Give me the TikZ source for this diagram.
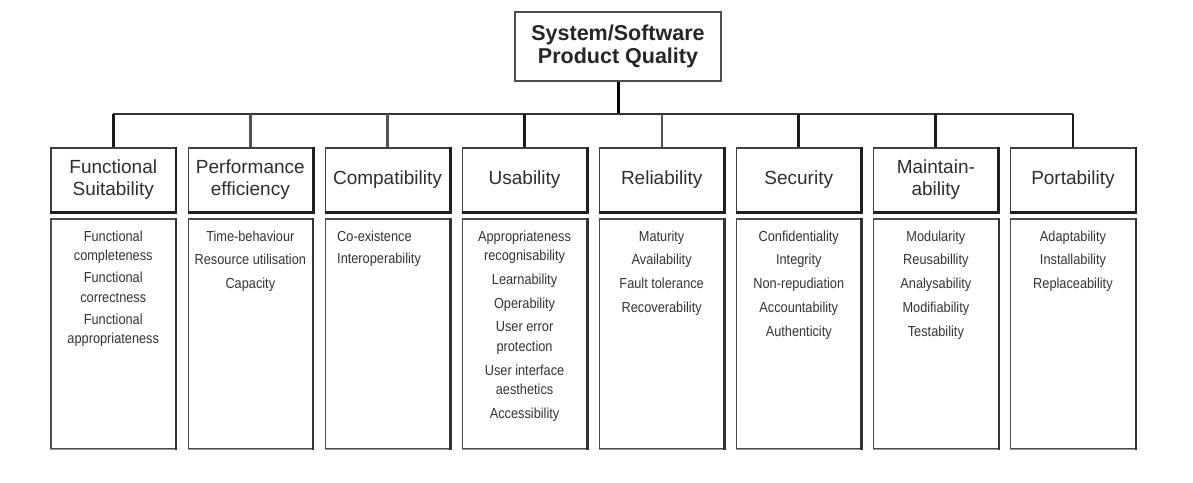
\documentclass[tikz,border=0pt]{standalone}
\usepackage{fontspec}
\setmainfont{Liberation Sans}
\newfontfamily\narrowfont[FakeStretch=0.88]{Liberation Sans}
\begin{document}
\begin{tikzpicture}[x=1pt,y=-1pt,
  titlebox/.style={draw=black!70, line width=1.2pt, minimum width=206pt, minimum height=69pt, inner sep=0pt,
    font=\bfseries\fontsize{21.5}{23.5}\selectfont, text=black!85, align=center},
  hbox/.style={draw=black!75, line width=1.2pt, minimum width=124.5pt, minimum height=64pt, inner sep=0pt,
    font=\fontsize{19}{22}\selectfont, text=black!82, align=center},
  cbox/.style={draw=black!70, line width=1.2pt, minimum width=124.5pt, minimum height=230pt, inner sep=0pt},
  ctext/.style={font=\narrowfont\fontsize{14.5}{19.5}\selectfont, text=black!80, align=center, inner sep=0pt, anchor=north},
  ltext/.style={font=\narrowfont\fontsize{14.5}{22.5}\selectfont, text=black!80, align=left, inner sep=0pt, anchor=north west},
  hedge/.style={draw=black!88, line width=2.6pt},
  cedge/.style={draw=black!80, line width=2.4pt},
  cbottom/.style={draw=black!40, line width=1.4pt},
  trunk/.style={draw=black, line width=3pt},
  bar/.style={draw=black!80, line width=2.2pt},
  brdark/.style={draw=black!90, line width=2.8pt},
  brgray/.style={draw=black!68, line width=2.3pt}
]
\useasboundingbox (0,0) rectangle (1193,482);

% title
\node[titlebox] (title) at (618,46.5) {System/Software\\Product Quality};

% headers
\node[hbox] (h1) at (113.25,180) {Functional\\Suitability};
\node[hbox] (h2) at (250.35,180) {Performance\\efficiency};
\node[hbox] (h3) at (387.45,180) {Compatibility};
\node[hbox] (h4) at (524.55,180) {Usability};
\node[hbox] (h5) at (661.65,180) {Reliability};
\node[hbox] (h6) at (798.75,180) {Security};
\node[hbox] (h7) at (935.85,180) {Maintain-\\ability};
\node[hbox] (h8) at (1072.95,180) {Portability};

% content boxes
\node[cbox] (c1) at (113.25,334) {};
\node[cbox] (c2) at (250.35,334) {};
\node[cbox] (c3) at (387.45,334) {};
\node[cbox] (c4) at (524.55,334) {};
\node[cbox] (c5) at (661.65,334) {};
\node[cbox] (c6) at (798.75,334) {};
\node[cbox] (c7) at (935.85,334) {};
\node[cbox] (c8) at (1072.95,334) {};

% shadow edges
\foreach \n in {h1,h2,h3,h4,h5,h6,h7,h8}{
  \draw[hedge] (\n.north east) -- (\n.south east) -- (\n.south west);
}
\foreach \n in {c1,c2,c3,c4,c5,c6,c7,c8}{
  \draw[cbottom] (\n.south west) -- (\n.south east);
  \draw[cedge] (\n.north east) -- (\n.south east);
}

% content texts
\node[ctext] (t1) at (113.25,230.5) {Functional\\completeness\\[2.5pt]Functional\\correctness\\[2.5pt]Functional\\appropriateness};
\node[ctext] (t2) at (250.35,230.5) {Time-behaviour\\[4.2pt]Resource utilisation\\[4.2pt]Capacity};
\node[ltext] (t3) at (337,230.5) {Co-existence\\Interoperability};
\node[ctext] (t4) at (524.55,230.5) {Appropriateness\\recognisability\\[4.2pt]Learnability\\[4.2pt]Operability\\[4.2pt]User error\\protection\\[4.2pt]User interface\\aesthetics\\[4.2pt]Accessibility};
\node[ctext] (t5) at (661.65,230.5) {Maturity\\[4.2pt]Availability\\[4.2pt]Fault tolerance\\[4.2pt]Recoverability};
\node[ctext] (t6) at (798.75,230.5) {Confidentiality\\[4.2pt]Integrity\\[4.2pt]Non-repudiation\\[4.2pt]Accountability\\[4.2pt]Authenticity};
\node[ctext] (t7) at (935.85,230.5) {Modularity\\[4.2pt]Reusabillity\\[4.2pt]Analysability\\[4.2pt]Modifiability\\[4.2pt]Testability};
\node[ctext] (t8) at (1072.95,230.5) {Adaptability\\[4.2pt]Installability\\[4.2pt]Replaceability};

% connectors
\coordinate (j) at (title.south |- 0,114);
\draw[trunk] (title.south) -- (j);
\draw[bar] (h1.north |- j) -- (h8.north |- j);
\draw[brdark] (h1.north |- j) -- (h1.north);
\draw[brgray] (h2.north |- j) -- (h2.north);
\draw[brgray] (h3.north |- j) -- (h3.north);
\draw[brdark] (h4.north |- j) -- (h4.north);
\draw[brgray] (h5.north |- j) -- (h5.north);
\draw[brdark] (h6.north |- j) -- (h6.north);
\draw[brdark] (h7.north |- j) -- (h7.north);
\draw[brdark] (h8.north |- j) -- (h8.north);
\end{tikzpicture}
\end{document}
